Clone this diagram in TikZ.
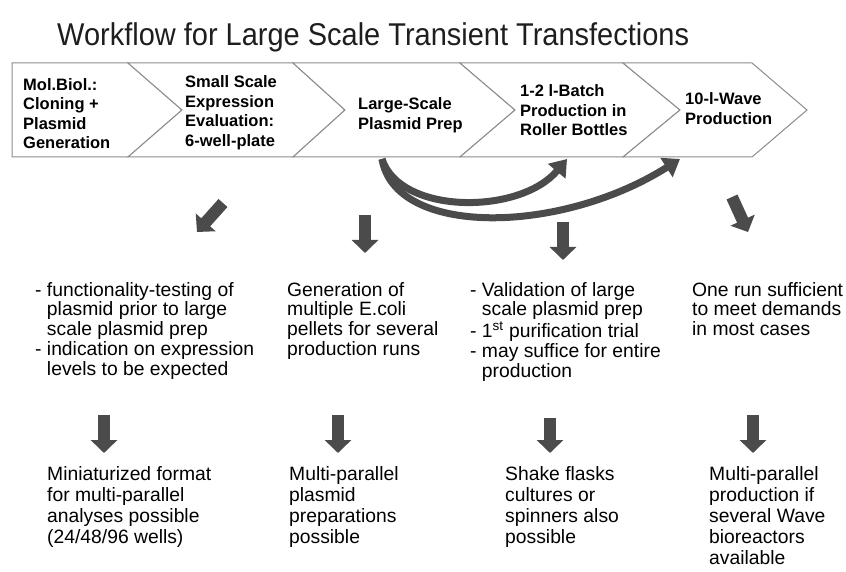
\documentclass[tikz,border=0pt]{standalone}
\usepackage{fontspec}
\setmainfont{Liberation Sans}
\usepackage{graphicx}
\usepackage{tikz}
\usetikzlibrary{arrows.meta, positioning}
\definecolor{arrowgray}{RGB}{75, 75, 75}
\definecolor{framegray}{RGB}{140, 140, 140}
\definecolor{titlegray}{RGB}{30, 30, 30}

% left aligned lines, first baseline on the node base
\newcommand{\textrows}[1]{\begin{tabular}[t]{@{}l@{}}#1\end{tabular}}

\tikzset{
    stageframe/.style={draw=framegray, line width=1pt, fill=white},
    stagetext/.style={anchor=base west, inner sep=0pt, font=\fontsize{16.5}{19.4}\selectfont\bfseries},
    notetext/.style={anchor=base west, inner sep=0pt, font=\fontsize{19.3}{19.4}\selectfont},
    resulttext/.style={anchor=base west, inner sep=0pt, font=\fontsize{19.3}{21}\selectfont},
    blockarrow/.style={draw=arrowgray, line width=12pt, -{Triangle[length=13pt, width=26pt]}},
    bendarrow/.style={draw=arrowgray, line width=7pt, -{Triangle[length=16pt, width=22pt]}}
}

\begin{document}
\begin{tikzpicture}[x=1pt, y=-1pt]
    \useasboundingbox (0,0) rectangle (846,572);
    \fill[white] (0,0) rectangle (846,572);

    \node[anchor=base west, inner sep=0pt, font=\fontsize{31.5}{32}\selectfont, text=titlegray] (title) at (57,46)
        {\scalebox{0.92}[1]{Workflow for Large Scale Transient Transfections}};

    % chevron banner
    \draw[stageframe] (12,63) -- (128,63) -- (182,110) -- (128,157) -- (12,157) -- cycle;
    \foreach \l/\lt/\r/\rt in {128/182/293/345, 293/345/460/515, 460/515/623/680, 623/680/752/807}
        \draw[stageframe] (\l,63) -- (\r,63) -- (\rt,110) -- (\r,157) -- (\l,157) -- (\lt,110) -- cycle;

    \node[stagetext] (clone) at (23,90.5) {\textrows{Mol.Biol.:\\Cloning +\\Plasmid\\Generation}};
    \node[stagetext] (small) at (185,88) {\textrows{Small Scale\\Expression\\Evaluation:\\6-well-plate}};
    \node[stagetext] (prep) at (358,110) {\textrows{Large-Scale\\Plasmid Prep}};
    \node[stagetext] (batch) at (520,97) {\textrows{1-2 l-Batch\\Production in\\Roller Bottles}};
    \node[stagetext] (wave) at (685,105) {\textrows{10-l-Wave\\Production}};

    % plasmid prep feeds both production steps
    \coordinate (prep-out) at (382,159);
    \coordinate (batch-in) at (567,159);
    \coordinate (wave-in) at (680,159);
    \draw[bendarrow] (prep-out) .. controls (400,215) and (520,215) .. (batch-in);
    \draw[bendarrow] (prep-out) .. controls (395,237) and (560,235) .. (wave-in);

    % what each stage gives
    \node[notetext] (test) at (35,296) {\textrows{- functionality-testing of\\\phantom{- }plasmid prior to large\\\phantom{- }scale plasmid prep\\- indication on expression\\\phantom{- }levels to be expected}};
    \node[notetext] (pellets) at (287,296) {\textrows{Generation of\\multiple E.coli\\pellets for several\\production runs}};
    \node[notetext] (valid) at (470,296) {\textrows{- Validation of large\\\phantom{- }scale plasmid prep\\- 1\textsuperscript{st} purification trial\\- may suffice for entire\\\phantom{- }production}};
    \node[notetext] (onerun) at (692,296) {\textrows{One run sufficient\\to meet demands\\in most cases}};

    \node[resulttext] (mini) at (47,480) {\textrows{Miniaturized format\\for multi-parallel\\analyses possible\\(24/48/96 wells)}};
    \node[resulttext] (multiprep) at (289,480) {\textrows{Multi-parallel\\plasmid\\preparations\\possible}};
    \node[resulttext] (shake) at (505,480) {\textrows{Shake flasks\\cultures or\\spinners also\\possible}};
    \node[resulttext] (multiwave) at (709,480) {\textrows{Multi-parallel\\production if\\several Wave\\bioreactors\\available}};

    % short block arrows
    \foreach \n/\xa/\ya/\xb/\yb in {s1/223/203/197/232, s2/365/215/365/253, s3/563/222/563/260, s4/732/197/748/232,
                                  r1/104/415/104/453, r2/338/415/338/453, r3/550/418/550/453, r4/753/415/753/453} {
        \coordinate (\n-from) at (\xa,\ya);
        \coordinate (\n-to) at (\xb,\yb);
        \draw[blockarrow] (\n-from) -- (\n-to);
    }
\end{tikzpicture}
\end{document}
